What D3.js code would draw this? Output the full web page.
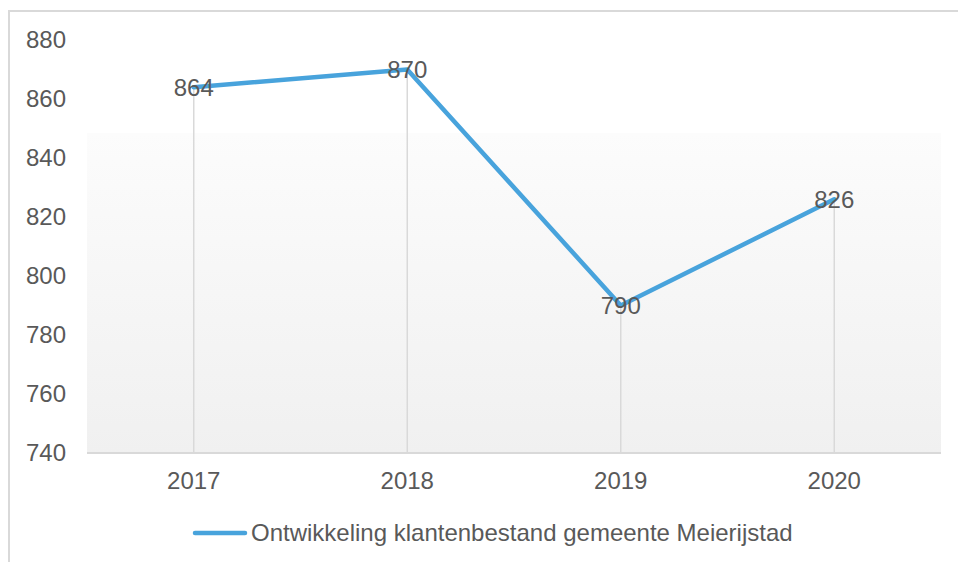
<!DOCTYPE html>
<html>
<head>
<meta charset="utf-8">
<script src="https://cdn.jsdelivr.net/npm/d3@7"></script>
<style>
html,body{margin:0;padding:0;background:#fff;}
svg{display:block;font-family:"Liberation Sans",Arial,sans-serif;}
</style>
</head>
<body>
<svg id="chart" width="958" height="562"></svg>
<script>
const categories = ["2017", "2018", "2019", "2020"];
const values = [864, 870, 790, 826];
const yTicks = [740, 760, 780, 800, 820, 840, 860, 880];
const seriesName = "Ontwikkeling klantenbestand gemeente Meierijstad";

const svg = d3.select("#chart");
const W = 958, H = 562;
const m = {left: 87, right: 17, top: 40, bottom: 109};
const x = d3.scaleBand().domain(categories).range([m.left, W - m.right]);
const y = d3.scaleLinear().domain([740, 880]).range([H - m.bottom, m.top]);
const cx = d => x(d) + x.bandwidth() / 2;
const textColor = "#595959";
const fs = 24;

// outer border
svg.append("path").attr("d", `M9,${H+5}V11H${W+5}`).attr("fill","none")
  .attr("stroke","#d9d9d9").attr("stroke-width",2);

// gradient background
const defs = svg.append("defs");
const g = defs.append("linearGradient").attr("id","bg").attr("x1",0).attr("y1",0).attr("x2",0).attr("y2",1);
g.append("stop").attr("offset","0%").attr("stop-color","#fcfcfc");
g.append("stop").attr("offset","100%").attr("stop-color","#f0f0f0");
svg.append("rect").attr("x", m.left).attr("y", y(848.5))
  .attr("width", W - m.right - m.left).attr("height", y(740) - y(848.5))
  .attr("fill","url(#bg)");

// drop lines
svg.selectAll(".drop").data(categories).join("line")
  .attr("x1", d => cx(d)).attr("x2", d => cx(d))
  .attr("y1", (d,i) => y(values[i])).attr("y2", y(740))
  .attr("stroke","#d9d9d9").attr("stroke-width",1.5);

// x axis line
svg.append("line").attr("x1", m.left).attr("x2", W - m.right)
  .attr("y1", y(740)).attr("y2", y(740))
  .attr("stroke","#d9d9d9").attr("stroke-width",2);

// y tick labels
svg.selectAll(".ytick").data(yTicks).join("text")
  .attr("x", 66).attr("y", d => y(d)).attr("dy","0.35em")
  .attr("text-anchor","end").attr("fill",textColor).attr("font-size",fs)
  .text(d => d);

// x tick labels
svg.selectAll(".xtick").data(categories).join("text")
  .attr("x", d => cx(d)).attr("y", y(740) + 28).attr("dy","0.35em")
  .attr("text-anchor","middle").attr("fill",textColor).attr("font-size",fs)
  .text(d => d);

// line
const line = d3.line().x((d,i) => cx(categories[i])).y(d => y(d));
svg.append("path").datum(values).attr("d", line).attr("fill","none")
  .attr("stroke","#48a3dc").attr("stroke-width",4.5)
  .attr("stroke-linejoin","round").attr("stroke-linecap","round");

// data labels
svg.selectAll(".lbl").data(values).join("text")
  .attr("x", (d,i) => cx(categories[i])).attr("y", d => y(d)).attr("dy","0.35em")
  .attr("text-anchor","middle").attr("fill",textColor).attr("font-size",fs)
  .text(d => d);

// legend
svg.append("line").attr("x1",195).attr("x2",245).attr("y1",533).attr("y2",533)
  .attr("stroke","#48a3dc").attr("stroke-width",4.5).attr("stroke-linecap","round");
svg.append("text").attr("x",251).attr("y",533).attr("dy","0.35em")
  .attr("fill",textColor).attr("font-size",fs).text(seriesName);
</script>
</body>
</html>
